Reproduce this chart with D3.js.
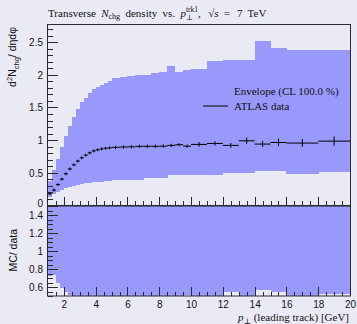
<!DOCTYPE html>
<html>
<head>
<meta charset="utf-8">
<script src="https://cdn.jsdelivr.net/npm/d3@7"></script>
<style>
  html, body { margin: 0; padding: 0; background: #eaeaf4; }
  svg { display: block; }
</style>
</head>
<body>
<svg id="chart" width="357" height="324"></svg>
<script>
// p_T(leading track) bin edges [GeV]
const binEdges = [1, 1.25, 1.5, 1.75, 2, 2.25, 2.5, 2.75, 3, 3.25, 3.5, 3.75, 4, 4.25, 4.5, 4.75, 5,
                  5.5, 6, 6.5, 7, 7.5, 8, 8.5, 9, 9.5, 10, 11, 12, 13, 14, 15, 16, 18, 20];

// ATLAS data: transverse charged-particle density and its uncertainty
const dataValues = [0.18, 0.236, 0.32, 0.404, 0.485, 0.56, 0.622, 0.68, 0.73, 0.77, 0.805, 0.835,
                    0.852, 0.866, 0.876, 0.882, 0.89, 0.895, 0.898, 0.905, 0.906, 0.906, 0.908,
                    0.92, 0.93, 0.908, 0.935, 0.95, 0.92, 0.99, 0.94, 0.965, 0.955, 0.985];
const dataErrors = [0.022, 0.022, 0.022, 0.022, 0.022, 0.022, 0.022, 0.022, 0.022, 0.022, 0.022,
                    0.022, 0.022, 0.022, 0.022, 0.022, 0.025, 0.025, 0.025, 0.025, 0.025, 0.025,
                    0.025, 0.025, 0.025, 0.025, 0.036, 0.033, 0.036, 0.05, 0.046, 0.058, 0.06, 0.072];

// MC envelope (CL 100 %): upper and lower edges per bin
const envelopeUpper = [0.37, 0.547, 0.71, 0.89, 1.067, 1.22, 1.355, 1.48, 1.59, 1.645, 1.726, 1.78,
                       1.815, 1.85, 1.88, 1.91, 1.945, 1.97, 1.98, 1.99, 1.99, 2.03, 2.05, 2.14,
                       2.05, 2.07, 2.09, 2.21, 2.22, 2.23, 2.52, 2.41, 2.385, 2.385];
const envelopeLower = [0.13, 0.172, 0.207, 0.24, 0.265, 0.285, 0.305, 0.318, 0.328, 0.337, 0.345,
                       0.352, 0.358, 0.363, 0.368, 0.373, 0.39, 0.39, 0.393, 0.395, 0.42, 0.42,
                       0.42, 0.465, 0.465, 0.465, 0.465, 0.465, 0.505, 0.495, 0.535, 0.53, 0.475, 0.515];

// Axis ticks
const mainMajorTicks = [0, 0.5, 1, 1.5, 2, 2.5];
const ratioMajorTicks = [0.6, 0.8, 1, 1.2, 1.4];
const xMajorTicks = [2, 4, 6, 8, 10, 12, 14, 16, 18, 20];

const legendLabels = ["Envelope (CL 100.0 %)", "ATLAS data"];

const SERIF = "'Liberation Serif', 'DejaVu Serif', serif";
const SANS = "'Liberation Sans', Arial, sans-serif";
const BAND = "#9999fc";
const FRAME = "#2a2a2a";

const bins = dataValues.map((v, i) => ({
  lo: binEdges[i], hi: binEdges[i + 1], mid: (binEdges[i] + binEdges[i + 1]) / 2,
  value: v, err: dataErrors[i], up: envelopeUpper[i], low: envelopeLower[i]
}));

const svg = d3.select("#chart");

const left = 48, right = 350;
const mainTop = 24.5, mainBottom = 205.5;
const ratioTop = 206, ratioBottom = 296;

const x = d3.scaleLinear().domain([1, 20]).range([left, right]);
const y = d3.scaleLinear().domain([0, 2.77]).range([mainBottom, mainTop]);
const r = d3.scaleLinear().domain([0.5, 1.5]).range([ratioBottom, ratioTop]);

const defs = svg.append("defs");
defs.append("clipPath").attr("id", "clipMain").append("rect")
  .attr("x", left).attr("y", mainTop).attr("width", right - left).attr("height", mainBottom - mainTop);
defs.append("clipPath").attr("id", "clipRatio").append("rect")
  .attr("x", left).attr("y", ratioTop).attr("width", right - left).attr("height", ratioBottom - ratioTop);

// ---- main panel: envelope band
svg.append("g").attr("clip-path", "url(#clipMain)")
  .selectAll("rect").data(bins).join("rect")
  .attr("x", d => x(d.lo)).attr("width", d => x(d.hi) - x(d.lo) + 0.3)
  .attr("y", d => y(d.up)).attr("height", d => y(d.low) - y(d.up))
  .attr("fill", BAND).attr("shape-rendering", "crispEdges");

// ---- ratio panel: envelope / data
svg.append("g").attr("clip-path", "url(#clipRatio)")
  .selectAll("rect").data(bins).join("rect")
  .attr("x", d => x(d.lo)).attr("width", d => x(d.hi) - x(d.lo) + 0.3)
  .attr("y", d => r(Math.min(d.up / d.value, 1.6)))
  .attr("height", d => r(Math.max(d.low / d.value, 0.4)) - r(Math.min(d.up / d.value, 1.6)))
  .attr("fill", BAND).attr("shape-rendering", "crispEdges");

// ---- data points with error bars
const pts = svg.append("g").attr("clip-path", "url(#clipMain)")
  .attr("stroke", "#000").attr("stroke-width", 1);
pts.selectAll("line.h").data(bins).join("line").attr("class", "h")
  .attr("x1", d => x(d.lo)).attr("x2", d => x(d.hi))
  .attr("y1", d => y(d.value)).attr("y2", d => y(d.value));
pts.selectAll("line.v").data(bins).join("line").attr("class", "v")
  .attr("x1", d => x(d.mid)).attr("x2", d => x(d.mid))
  .attr("y1", d => y(d.value - d.err)).attr("y2", d => y(d.value + d.err));

// ---- axes (ticks point inward)
function styleAxis(g) {
  g.select(".domain").remove();
  g.selectAll(".tick line").attr("stroke", FRAME).attr("shape-rendering", "crispEdges");
  g.selectAll(".tick text").attr("fill", "#111").attr("font-family", SANS).attr("font-size", 10);
}
const fmt = d3.format("~g");

svg.append("g").attr("transform", `translate(${left},0)`)
  .call(d3.axisLeft(y).tickValues(d3.range(0, 2.76, 0.1)).tickSize(-4.5).tickFormat(""))
  .call(styleAxis);
svg.append("g").attr("transform", `translate(${left},0)`)
  .call(d3.axisLeft(y).tickValues(mainMajorTicks).tickSize(-10).tickPadding(5).tickFormat(fmt))
  .call(styleAxis);

svg.append("g").attr("transform", `translate(${left},0)`)
  .call(d3.axisLeft(r).tickValues(d3.range(0.5, 1.51, 0.05)).tickSize(-4.5).tickFormat(""))
  .call(styleAxis);
svg.append("g").attr("transform", `translate(${left},0)`)
  .call(d3.axisLeft(r).tickValues(ratioMajorTicks).tickSize(-10).tickPadding(5).tickFormat(fmt))
  .call(styleAxis);

const xMinor = d3.range(1.5, 20, 0.5);
[mainBottom, ratioBottom].forEach((yy, k) => {
  svg.append("g").attr("transform", `translate(0,${yy})`)
    .call(d3.axisBottom(x).tickValues(xMinor).tickSize(-4.5).tickFormat(""))
    .call(styleAxis);
  svg.append("g").attr("transform", `translate(0,${yy})`)
    .call(d3.axisBottom(x).tickValues(xMajorTicks).tickSize(-9).tickPadding(5)
      .tickFormat(k === 1 ? fmt : ""))
    .call(styleAxis);
});
// the lowest main-panel label sits just above the ratio panel
svg.selectAll(".tick text").filter(d => d === 0).attr("dy", "0.1em");

// ---- frames
svg.append("rect").attr("x", left - 0.5).attr("y", mainTop).attr("width", right - left + 1)
  .attr("height", mainBottom - mainTop).attr("fill", "none").attr("stroke", FRAME);
svg.append("rect").attr("x", left - 0.5).attr("y", ratioTop).attr("width", right - left + 1)
  .attr("height", ratioBottom - ratioTop).attr("fill", "none").attr("stroke", FRAME);

// ---- title
const title = svg.append("text").attr("x", 48).attr("y", 16.5)
  .attr("font-family", SERIF).attr("font-size", 11).attr("word-spacing", 2.6)
  .attr("fill", "#111");
title.append("tspan").text("Transverse ");
title.append("tspan").attr("font-style", "italic").text("N");
title.append("tspan").attr("font-size", 8).attr("dy", 2.5).text("chg");
title.append("tspan").attr("dy", -2.5).text(" density vs. ");
title.append("tspan").attr("font-style", "italic").text("p");
const sup = title.append("tspan").attr("font-size", 7.5).attr("dy", -4.5).text("trk1");
const supW = sup.node().getComputedTextLength();
const sub = title.append("tspan").attr("font-size", 7.5).attr("dx", -supW).attr("dy", 7.5).text("⊥");
const subW = sub.node().getComputedTextLength();
title.append("tspan").attr("dx", supW - subW).attr("dy", -3).text(", ");
title.append("tspan").attr("dx", 2).text("√");
title.append("tspan").attr("font-style", "italic").text("s");
title.append("tspan").text(" = ");
title.append("tspan").attr("dx", 1.5).text("7 TeV");

// ---- axis titles
const yl = svg.append("text").attr("transform", "translate(16,27) rotate(-90)")
  .attr("text-anchor", "end").attr("font-family", SANS).attr("font-size", 10.5).attr("fill", "#111");
yl.append("tspan").text("d");
yl.append("tspan").attr("font-size", 7.5).attr("dy", -4).text("2");
yl.append("tspan").attr("dy", 4).text("N");
yl.append("tspan").attr("font-size", 7.5).attr("dy", 2.5).text("chg");
yl.append("tspan").attr("dy", -2.5).text("/ dηdφ");

svg.append("text").attr("transform", "translate(17,229) rotate(-90)")
  .attr("text-anchor", "end").attr("font-family", SANS).attr("font-size", 10.5).attr("fill", "#111")
  .text("MC/ data");

const xl = svg.append("text").attr("x", 349).attr("y", 321).attr("text-anchor", "end")
  .attr("font-family", SERIF).attr("font-size", 11).attr("fill", "#111");
xl.append("tspan").attr("font-style", "italic").text("p");
xl.append("tspan").attr("font-size", 8).attr("dy", 2.5).text("⊥");
xl.append("tspan").attr("dy", -2.5).text(" (leading track) [GeV]");

// ---- legend
const legend = svg.append("g").attr("font-family", SERIF).attr("font-size", 11).attr("fill", "#111");
legend.append("text").attr("x", 234).attr("y", 95).text(legendLabels[0]);
legend.append("line").attr("x1", 203).attr("x2", 228).attr("y1", 106).attr("y2", 106)
  .attr("stroke", "#000").attr("stroke-width", 1);
legend.append("text").attr("x", 234).attr("y", 109.5).text(legendLabels[1]);
</script>
</body>
</html>
